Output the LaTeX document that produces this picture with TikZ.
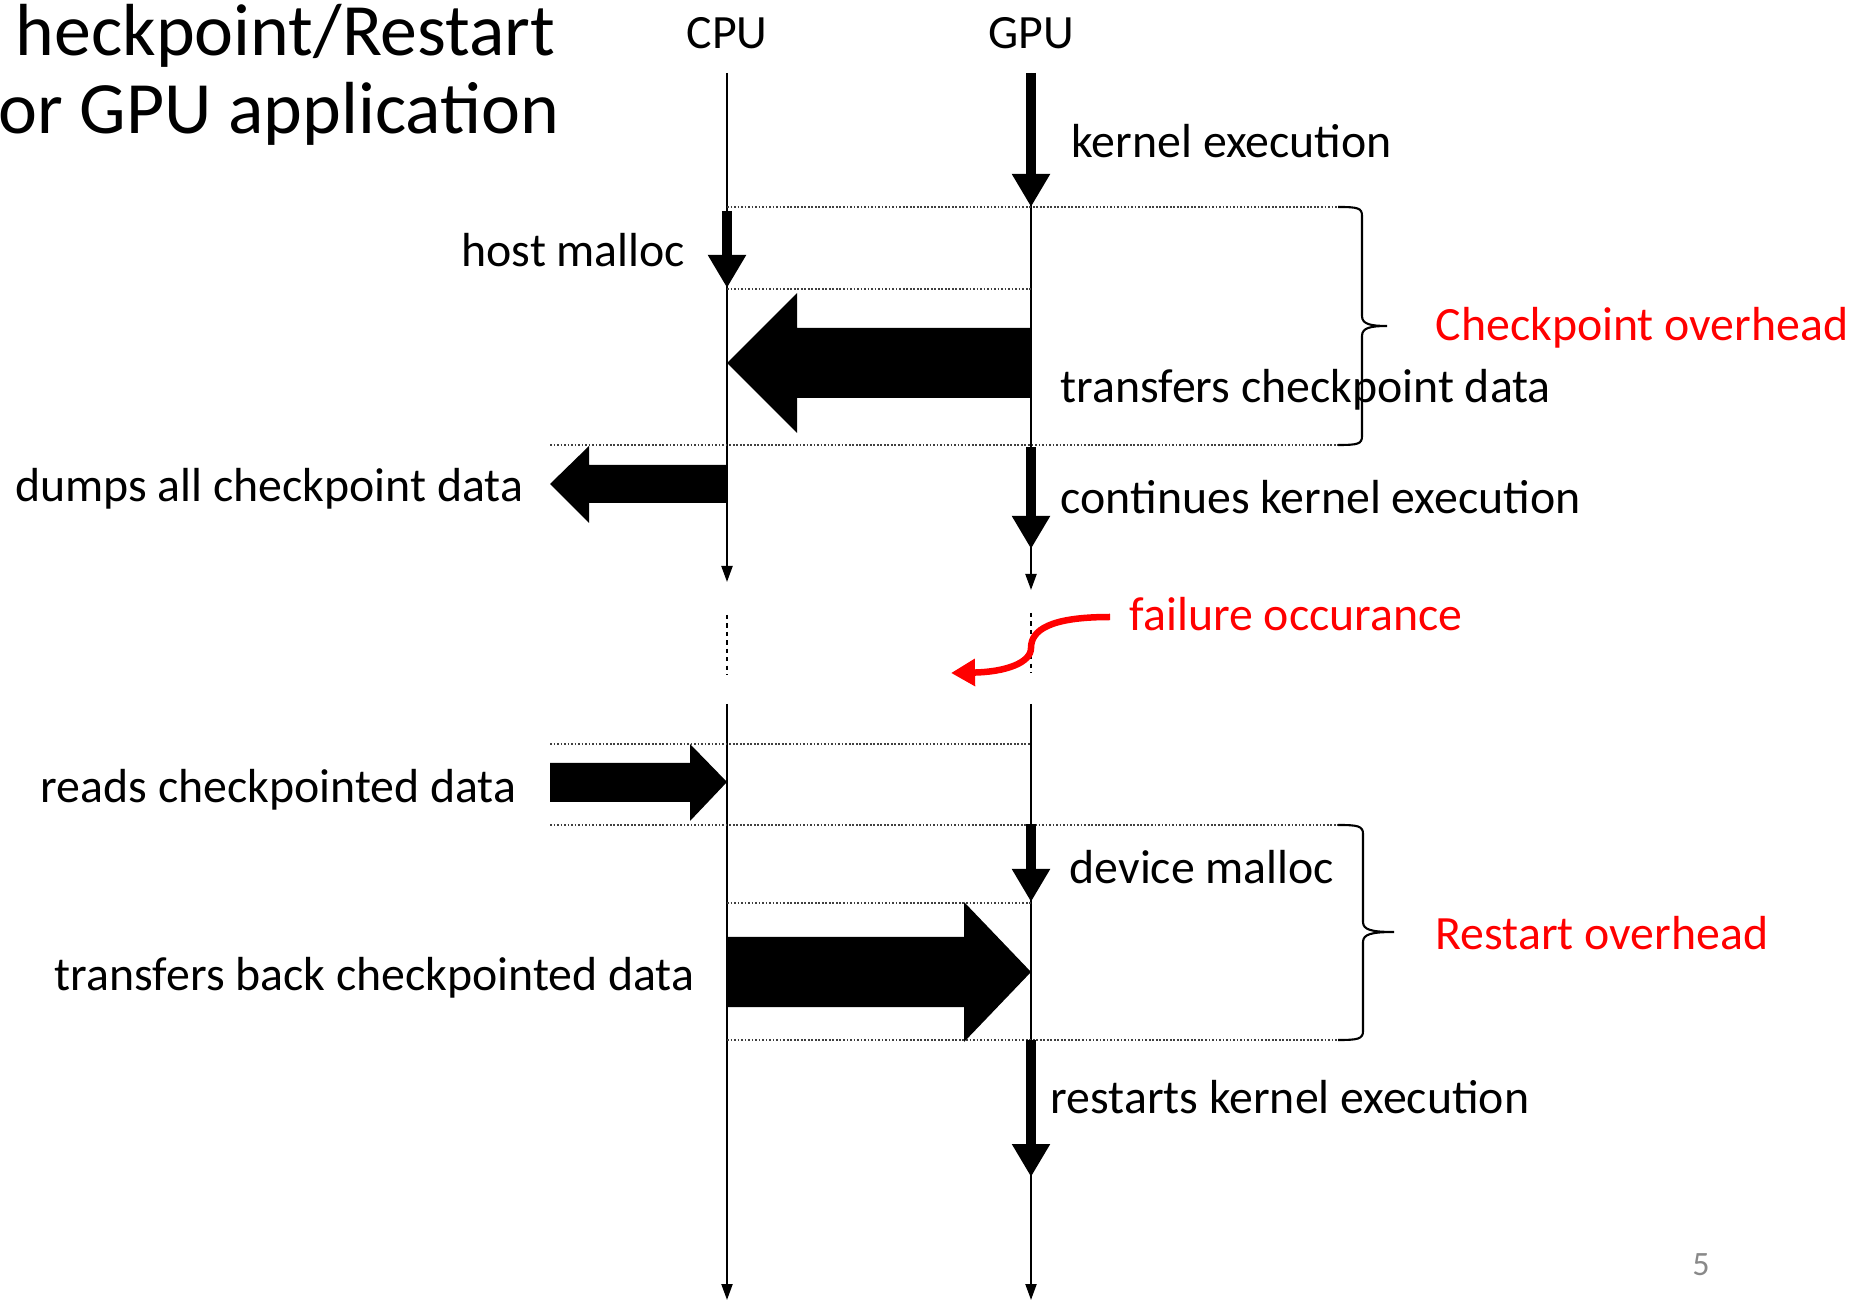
\documentclass[tikz,border=0pt]{standalone}
\usepackage{fontspec}
\setmainfont{Carlito}
\usetikzlibrary{arrows.meta,positioning}
\tikzset{
	lifeline/.style={line width=0.6pt, -{Triangle[length=1.6mm,width=1.1mm]}},
	execbar/.style={line width=0.95mm, -{Triangle[length=3.3mm,width=3.6mm]}},
	gridline/.style={line width=0.5pt, black!75, dash pattern=on 0.5pt off 0.5pt},
	pausedline/.style={line width=0.5pt, dash pattern=on 1.2pt off 1.2pt},
	ovbrace/.style={line width=0.6pt},
	msg/.style={inner sep=0pt, font=\fontsize{13.6}{16}\selectfont},
	overhead/.style={msg, text=red},
	titletext/.style={anchor=base east, inner sep=0pt, font=\fontsize{21}{25}\selectfont},
}
\definecolor{pagegray}{RGB}{137,137,137}
\begin{document}
\begin{tikzpicture}[x=0.1mm, y=-0.1mm]
	\useasboundingbox (0,0) rectangle (1855,1302);

	% title (its left edge is off the slide)
	\node[titletext] (title1) at (556,56) {heckpoint/Restart};
	\node[titletext] (title2) at (560,134) {or GPU application};

	\node[msg] (cpu) at (727,33) {CPU};
	\node[msg] (gpu) at (1031,33) {GPU};

	% lifelines
	\coordinate (cpuA) at (727,73);   \coordinate (cpuB) at (727,582);
	\coordinate (gpuA) at (1031,73);  \coordinate (gpuB) at (1031,590);
	\coordinate (cpuC) at (727,704);  \coordinate (cpuD) at (727,1300);
	\coordinate (gpuC) at (1031,704); \coordinate (gpuD) at (1031,1300);
	\draw[lifeline] (cpuA) -- (cpuB);
	\draw[lifeline] (gpuA) -- (gpuB);
	\draw[lifeline] (cpuC) -- (cpuD);
	\draw[lifeline] (gpuC) -- (gpuD);
	\draw[pausedline] (727,615) -- (727,675);
	\draw[pausedline] (1031,613) -- (1031,673);

	% dotted phase lines
	\draw[gridline] (727,207) -- (1338,207);
	\draw[gridline] (727,289) -- (1031,289);
	\draw[gridline] (550,445) -- (1338,445);
	\draw[gridline] (550,744) -- (1031,744);
	\draw[gridline] (550,825) -- (1338,825);
	\draw[gridline] (727,903) -- (1031,903);
	\draw[gridline] (727,1040) -- (1338,1040);

	% execution bars
	\draw[execbar] (1031,73) -- (1031,207);
	\draw[execbar] (727,211) -- (727,288);
	\draw[execbar] (1031,447) -- (1031,549);
	\draw[execbar] (1031,824) -- (1031,902);
	\draw[execbar] (1031,1040) -- (1031,1177);

	% data transfers
	\fill (1031,328) -- (797,328) -- (797,293) -- (727,363) -- (797,433) -- (797,398) -- (1031,398) -- cycle;
	\fill (727,465) -- (589,465) -- (589,446) -- (550,484) -- (589,523) -- (589,503) -- (727,503) -- cycle;
	\fill (550,763) -- (690,763) -- (690,744) -- (727,782) -- (690,821) -- (690,802) -- (550,802) -- cycle;
	\fill (727,937) -- (964,937) -- (964,902) -- (1031,972) -- (964,1042) -- (964,1007) -- (727,1007) -- cycle;

	\node[msg, anchor=west] (kexec) at (1071,141) {kernel execution};
	\node[msg, anchor=east] (hmalloc) at (686,250) {host malloc};
	\node[msg, anchor=west] (xfer) at (1060,390) {transfers checkpoint data};
	\node[msg, anchor=east] (dump) at (524,489) {dumps all checkpoint data};
	\node[msg, anchor=west] (cont) at (1060,497) {continues kernel execution};
	\node[msg, anchor=east] (reads) at (517,790) {reads checkpointed data};
	\node[msg, anchor=west] (dmalloc) at (1069,867) {device malloc};
	\node[msg, anchor=east] (back) at (695,978) {transfers back checkpointed data};
	\node[msg, anchor=west] (rkexec) at (1050,1097) {restarts kernel execution};

	% failure
	\node[overhead, anchor=west] (fail) at (1129,614) {failure occurance};
	\coordinate (failstart) at (1110,617);
	\coordinate (hit) at (951,673);
	\draw[red, line width=0.65mm, -{Triangle[length=2.4mm,width=2.6mm]}]
		(failstart) .. controls (1050,617) and (1031,630) .. (1031,648)
		.. controls (1031,663) and (1005,672) .. (hit);

	% overhead braces
	\draw[ovbrace] (1338,207) .. controls (1358,207) and (1362,208) .. (1362,216)
		-- (1362,316) .. controls (1362,324) and (1370,326) .. (1387,326)
		.. controls (1370,326) and (1362,328) .. (1362,336)
		-- (1362,436) .. controls (1362,444) and (1358,445) .. (1338,445);
	\draw[ovbrace] (1338,825) .. controls (1358,825) and (1363,826) .. (1363,834)
		-- (1363,922) .. controls (1363,930) and (1372,932) .. (1394,932)
		.. controls (1372,932) and (1363,934) .. (1363,942)
		-- (1363,1031) .. controls (1363,1039) and (1358,1040) .. (1338,1040);
	\node[overhead, anchor=west] (ckov) at (1435,328) {Checkpoint overhead};
	\node[overhead, anchor=west] (rsov) at (1435,933) {Restart overhead};

	\node[inner sep=0pt, text=pagegray, font=\fontsize{9.7}{12}\selectfont] (page) at (1701,1265) {5};
\end{tikzpicture}
\end{document}
